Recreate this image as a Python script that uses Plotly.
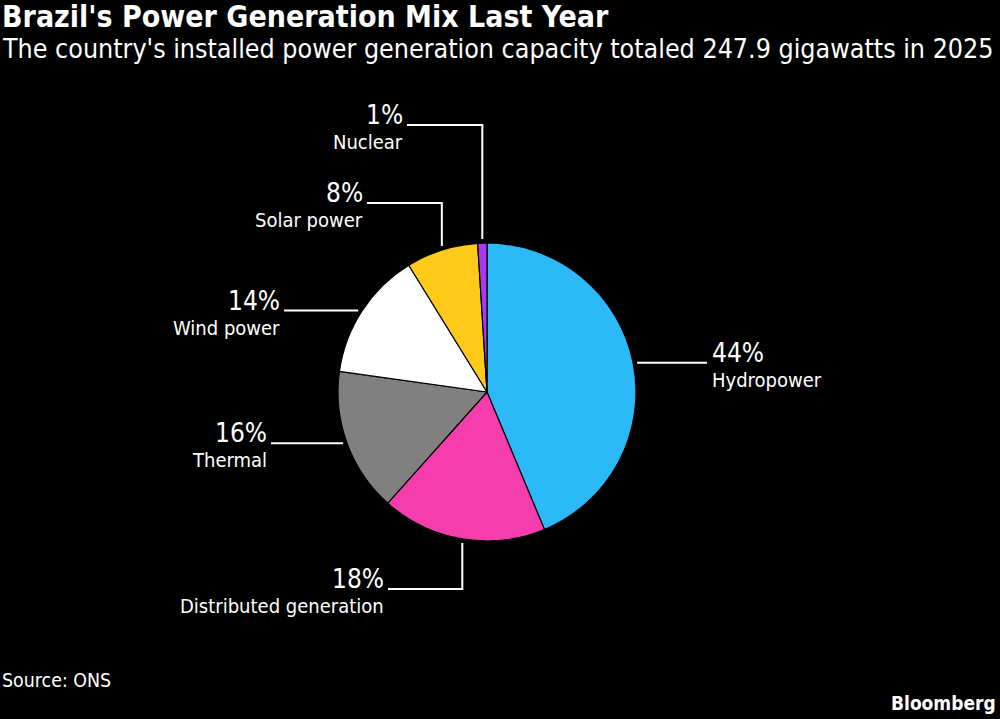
import math
import plotly.graph_objects as go

# ---- data ----
categories = ["Hydropower", "Distributed generation", "Thermal", "Wind power", "Solar power", "Nuclear"]
shares = [43.7, 17.9, 15.6, 14.0, 7.8, 1.0]
pct_labels = ["44%", "18%", "16%", "14%", "8%", "1%"]
colors = ["#2BB9F7", "#F53DAE", "#808080", "#FFFFFF", "#FFCA1A", "#A83BF0"]

W, H = 1000, 719
FONT = "DejaVu Sans Condensed"

# pie geometry (pixels)
cx, cy, R = 487, 392, 149

fig = go.Figure(go.Pie(
    labels=categories, values=shares, sort=False, direction="clockwise", rotation=0,
    marker=dict(colors=colors, line=dict(color="#000000", width=1.2)),
    textinfo="none", hoverinfo="label+percent", showlegend=False,
    domain=dict(x=[(cx - R) / W, (cx + R) / W], y=[(H - cy - R) / H, (H - cy + R) / H]),
))

# leader-line routing per slice: 'h' = horizontal to x, 'vh' = vertical to y then horizontal to x
routes = {
    "Hydropower": ("h", None, 707),
    "Distributed generation": ("vh", 589, 388),
    "Thermal": ("h", None, 271),
    "Wind power": ("h", None, 284),
    "Solar power": ("vh", 203, 367),
    "Nuclear": ("vh", 125, 407),
}

def px(x):
    return x / W

def py(y):
    return 1 - y / H

shapes = []
annotations = []
total = sum(shares)
cum = 0.0
gap = 4
for cat, val, pl in zip(categories, shares, pct_labels):
    mid = (cum + val / 2) / total * 2 * math.pi
    cum += val
    ex = cx + R * math.sin(mid)
    ey = cy - R * math.cos(mid)
    kind, ty, tx = routes[cat]
    if kind == "h":
        sx = ex + (gap if tx > ex else -gap)
        pts = [(sx, ey), (tx, ey)]
        ly = ey
    else:
        sy = ey + (gap if ty > ey else -gap)
        pts = [(ex, sy), (ex, ty), (tx, ty)]
        ly = ty
    path = "M " + " L ".join(f"{px(x):.5f},{py(y):.5f}" for x, y in pts)
    shapes.append(dict(type="path", xref="paper", yref="paper", path=path,
                       line=dict(color="#FFFFFF", width=2)))
    right_side = tx > cx
    xa = "left" if right_side else "right"
    tx_text = tx + 3 if right_side else tx - 2
    annotations.append(dict(x=px(tx_text), y=py(ly - 10), xref="paper", yref="paper",
                            text=pl, showarrow=False, xanchor=xa, yanchor="middle",
                            font=dict(family=FONT, size=26, color="#FFFFFF")))
    annotations.append(dict(x=px(tx_text), y=py(ly + 17), xref="paper", yref="paper",
                            text=cat, showarrow=False, xanchor=xa, yanchor="middle",
                            font=dict(family=FONT, size=20, color="#FFFFFF")))

annotations += [
    dict(x=0, y=py(17), xref="paper", yref="paper", xanchor="left", yanchor="middle",
         text="<b>Brazil's Power Generation Mix Last Year</b>", showarrow=False,
         font=dict(family=FONT, size=30, color="#FFFFFF")),
    dict(x=0, y=py(48), xref="paper", yref="paper", xanchor="left", yanchor="middle",
         text="The country's installed power generation capacity totaled 247.9 gigawatts in 2025",
         showarrow=False, font=dict(family=FONT, size=26.6, color="#FFFFFF")),
    dict(x=0, y=py(680), xref="paper", yref="paper", xanchor="left", yanchor="middle",
         text="Source: ONS", showarrow=False, font=dict(family=FONT, size=19.4, color="#FFFFFF")),
    dict(x=px(998), y=py(703), xref="paper", yref="paper", xanchor="right", yanchor="middle",
         text="<b>Bloomberg</b>", showarrow=False, font=dict(family=FONT, size=19, color="#FFFFFF")),
]

fig.update_layout(
    width=W, height=H, paper_bgcolor="#000000", plot_bgcolor="#000000",
    margin=dict(l=0, r=0, t=0, b=0), shapes=shapes, annotations=annotations,
)

fig.write_html("out.html")
